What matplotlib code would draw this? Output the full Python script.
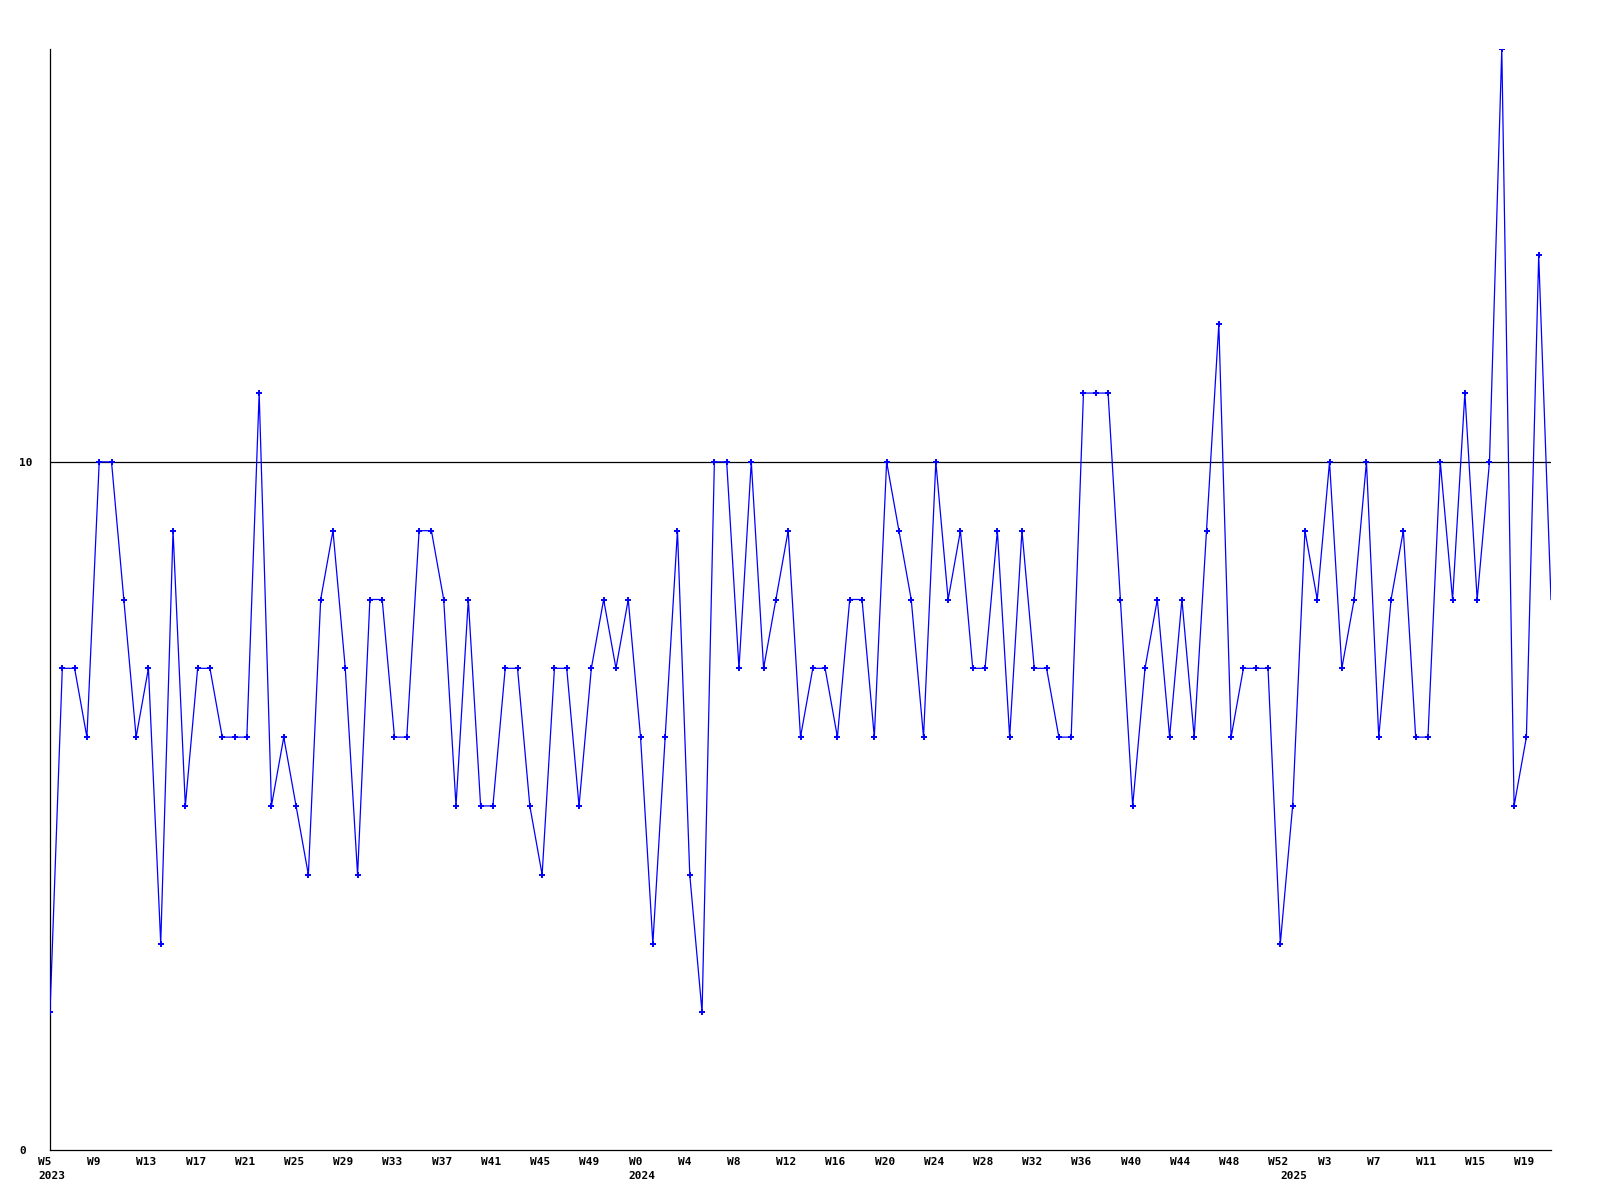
import matplotlib
matplotlib.use("Agg")
import matplotlib.pyplot as plt
import matplotlib.transforms as mtransforms

# weekly counts, W5 2023 .. W21 2025
counts = [2, 7, 7, 6, 10, 10, 8, 6, 7, 3, 9, 5, 7, 7, 6, 6, 6, 11, 5, 6,
          5, 4, 8, 9, 7, 4, 8, 8, 6, 6, 9, 9, 8, 5, 8, 5, 5, 7, 7, 5,
          4, 7, 7, 5, 7, 8, 7, 8, 6, 3, 6, 9, 4, 2, 10, 10, 7, 10, 7, 8,
          9, 6, 7, 7, 6, 8, 8, 6, 10, 9, 8, 6, 10, 8, 9, 7, 7, 9, 6, 9,
          7, 7, 6, 6, 11, 11, 11, 8, 5, 7, 8, 6, 8, 6, 9, 12, 6, 7, 7, 7,
          3, 5, 9, 8, 10, 7, 8, 10, 6, 8, 9, 6, 6, 10, 8, 11, 8, 10, 16, 5,
          6, 13, 8]

weeks_2023 = ["W%d" % w for w in range(5, 53)]
weeks_2024 = ["W%d" % w for w in range(0, 53)]
weeks_2025 = ["W%d" % w for w in range(0, 22)]
week_labels = weeks_2023 + weeks_2024 + weeks_2025

years = ["2023", "2024", "2025"]
year_starts = [0, len(weeks_2023), len(weeks_2023) + len(weeks_2024)]

y_ticks = [0, 10]

fig = plt.figure(figsize=(16, 12), dpi=100)
ax = fig.add_axes([50 / 1600, 50 / 1200, 1501 / 1600, 1101 / 1200])

x = list(range(len(counts)))
ax.plot(x, counts, color="#0000ff", linewidth=0.9, zorder=3)
ax.plot(x[:-1], counts[:-1], linestyle="none", marker="+", markersize=4,
        markeredgewidth=1.4, color="#0000ff", zorder=4)

ax.axhline(10, color="black", linewidth=0.9, zorder=2)

ax.set_xlim(0, len(counts) - 1)
ax.set_ylim(0, 16)

for side in ["top", "right"]:
    ax.spines[side].set_visible(False)
for side in ["left", "bottom"]:
    ax.spines[side].set_linewidth(0.9)

mono = {"family": "DejaVu Sans Mono", "weight": "bold", "size": 8}

ax.set_xticks([])

ax.set_yticks(y_ticks)
ax.set_yticklabels([str(v) for v in y_ticks], fontdict=mono, ha="left")
ax.tick_params(axis="y", length=0, pad=22)

shift = mtransforms.ScaledTranslation(-12 / 100, 0, fig.dpi_scale_trans)
trans = mtransforms.blended_transform_factory(ax.transData, ax.transAxes) + shift

for i in x[::4]:
    ax.text(i, -0.0105, week_labels[i], transform=trans, ha="left",
            va="center", fontdict=mono, clip_on=False)

for yr, i in zip(years, year_starts):
    ax.text(i, -0.024, yr, transform=trans, ha="left", va="center",
            fontdict=mono, clip_on=False)

fig.savefig("out.png", dpi=100)
